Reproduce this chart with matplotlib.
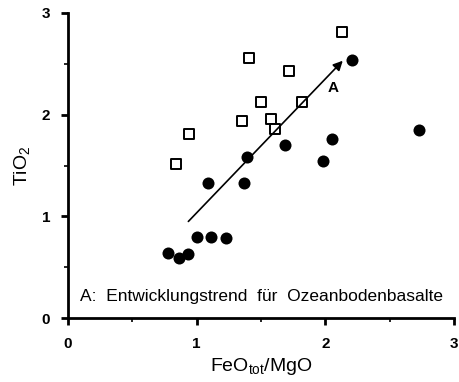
import matplotlib
matplotlib.use("Agg")
import matplotlib.pyplot as plt
from matplotlib.ticker import MultipleLocator

# Data
sq_x = [2.13, 1.41, 1.72, 1.50, 1.82, 1.35, 1.58, 1.61, 0.94, 0.84]
sq_y = [2.81, 2.56, 2.43, 2.12, 2.12, 1.94, 1.96, 1.86, 1.81, 1.51]
ci_x = [2.21, 2.73, 2.05, 1.69, 1.98, 1.39, 1.09, 1.37, 0.78, 0.86, 0.93, 1.00, 1.11, 1.23]
ci_y = [2.54, 1.85, 1.76, 1.70, 1.54, 1.58, 1.33, 1.33, 0.64, 0.59, 0.63, 0.80, 0.80, 0.79]
arrow_start = (0.92, 0.93)
arrow_end = (2.15, 2.55)
xticks = [0, 1, 2, 3]
yticks = [0, 1, 2, 3]

plt.rcParams['font.family'] = ['Liberation Sans', 'DejaVu Sans']
plt.rcParams['mathtext.fontset'] = 'custom'
plt.rcParams['mathtext.rm'] = 'Liberation Sans'
plt.rcParams['mathtext.it'] = 'Liberation Sans:italic'

fig = plt.figure(figsize=(4.6, 3.82), dpi=100)
ax = fig.add_axes([0.148, 0.1675, 0.839, 0.7985])

ax.scatter(ci_x, ci_y, s=75, c='black', marker='o', zorder=3, linewidths=0)
ax.scatter(sq_x, sq_y, s=42, facecolors='white', edgecolors='black', marker='s', linewidths=1.4, zorder=3)

ax.annotate('', xy=arrow_end, xytext=arrow_start,
            arrowprops=dict(arrowstyle='-|>', color='black', lw=1.2, mutation_scale=14))
ax.text(2.06, 2.26, 'A', fontsize=11, fontweight='bold', ha='center', va='center')
ax.text(0.09, 0.21, 'A:  Entwicklungstrend  für  Ozeanbodenbasalte', fontsize=12.5,
        fontweight='normal', ha='left', va='center')

ax.set_xlim(0, 3)
ax.set_ylim(0, 3)
ax.set_xticks(xticks)
ax.set_yticks(yticks)
ax.xaxis.set_minor_locator(MultipleLocator(0.5))
ax.yaxis.set_minor_locator(MultipleLocator(0.5))
ax.set_xticklabels([str(t) for t in xticks], fontsize=11, fontweight='bold')
ax.set_yticklabels([str(t) for t in yticks], fontsize=11, fontweight='bold')
ax.tick_params(axis='both', which='major', direction='out', length=5, width=2, pad=4)
ax.tick_params(axis='y', which='major', pad=8)
ax.tick_params(axis='x', which='major', pad=9)
ax.tick_params(axis='both', which='minor', direction='out', length=3, width=1.2)

for s in ['top', 'right']:
    ax.spines[s].set_visible(False)
for s in ['left', 'bottom']:
    ax.spines[s].set_linewidth(2)

ax.set_ylabel(r'TiO$_\mathregular{2}$', fontsize=14, labelpad=7)
ax.set_xlabel(r'FeO$_\mathregular{tot}$/MgO', fontsize=14, labelpad=3)

fig.savefig('out.png', dpi=100)
